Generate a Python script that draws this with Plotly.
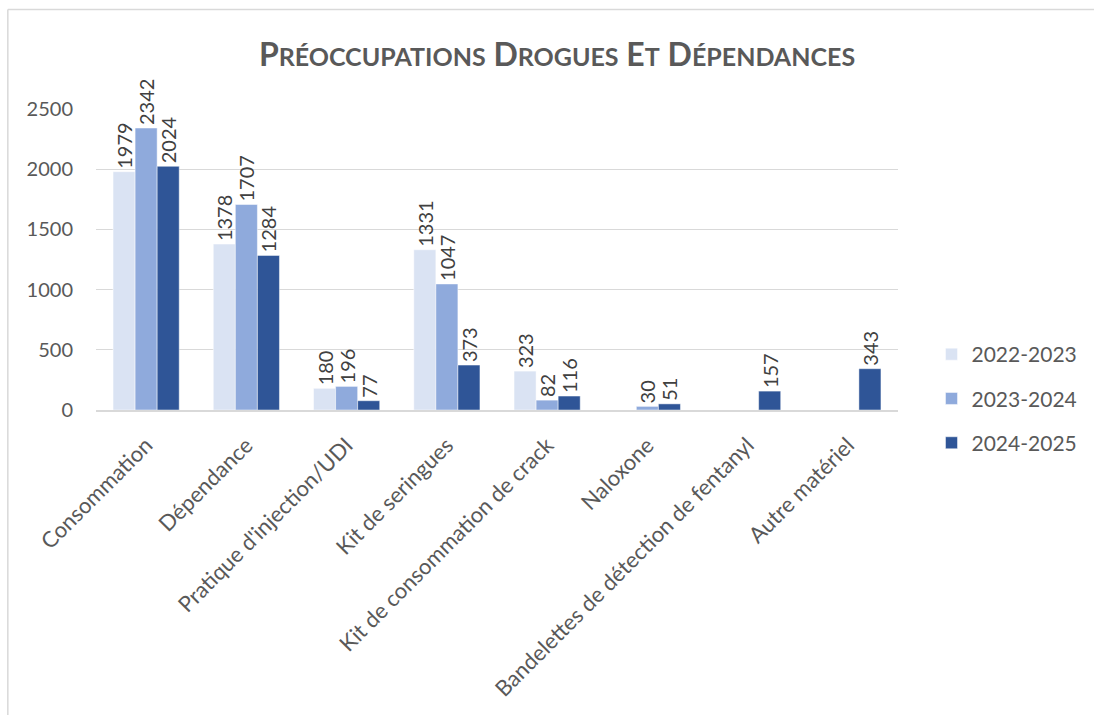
import plotly.graph_objects as go

categories = ["Consommation", "Dépendance", "Pratique d'injection/UDI", "Kit de seringues",
              "Kit de consommation de crack", "Naloxone",
              "Bandelettes de détection de fentanyl", "Autre matériel"]
series_names = ["2022-2023", "2023-2024", "2024-2025"]
v_2022_2023 = [1979, 1378, 180, 1331, 323, None, None, None]
v_2023_2024 = [2342, 1707, 196, 1047, 82, 30, None, None]
v_2024_2025 = [2024, 1284, 77, 373, 116, 51, 157, 343]
y_ticks = [0, 500, 1000, 1500, 2000, 2500]

colors = ["#DAE3F3", "#8FAADC", "#2F5597"]
FONT = "Lato, Carlito, Calibri, sans-serif"

fig = go.Figure()
for name, vals, col in zip(series_names, [v_2022_2023, v_2023_2024, v_2024_2025], colors):
    fig.add_trace(go.Bar(
        x=categories, y=vals, name=name, legendgroup=name,
        marker=dict(color=col, line=dict(color="rgba(255,255,255,0.6)", width=0.8)),
        text=[("" if v is None else str(v)) for v in vals],
        textposition="outside", textangle=-90, cliponaxis=False,
        constraintext="none",
        textfont=dict(family=FONT, size=20, color="#404040"),
    ))

small = "<span style='font-size:25px'>"
title = (f"P{small}RÉOCCUPATIONS</span> D{small}ROGUES</span> "
         f"E{small}T</span> D{small}ÉPENDANCES</span>")

L, R, T, B = 96, 184, 109, 305
W, H = 1094, 715
pw, ph = W - L - R, H - T - B

fig.update_layout(
    width=W, height=H,
    margin=dict(l=L, r=R, t=T, b=B),
    paper_bgcolor="white", plot_bgcolor="white",
    font=dict(family=FONT, color="#595959"),
    title=dict(text=title, x=557 / W, xanchor="center", y=1 - 55 / H, yanchor="middle",
               font=dict(family=FONT, size=32, color="#595959", weight="bold")),
    barmode="group", bargap=0.34, bargroupgap=0,
    showlegend=True,
    legend=dict(x=(944 - L) / pw, xanchor="left", y=(410 - 334) / ph, yanchor="top",
                traceorder="grouped", tracegroupgap=14,
                font=dict(family=FONT, size=21, color="#595959"),
                itemwidth=30, bgcolor="rgba(0,0,0,0)"),
    xaxis=dict(tickangle=-45, tickfont=dict(family=FONT, size=22, color="#595959"),
               showline=True, linecolor="#D9D9D9", linewidth=1.5, ticks="",
               showgrid=False, ticklabelstandoff=12),
    yaxis=dict(range=[0, 2500], tickvals=y_ticks, showgrid=True, gridcolor="#D9D9D9",
               gridwidth=1, zeroline=False, showline=False, ticks="",
               tickfont=dict(family=FONT, size=20, color="#595959"), ticklabelstandoff=22),
)

# chart frame (top and left edges visible)
x0 = (6.5 - L) / pw
y1 = 1 + (T - 9.5) / ph
y0 = -(H - T - ph + 10) / ph
fig.add_shape(type="line", xref="paper", yref="paper", x0=x0, x1=(W + 20 - L) / pw, y0=y1, y1=y1,
              line=dict(color="#D9D9D9", width=1.5))
fig.add_shape(type="line", xref="paper", yref="paper", x0=x0, x1=x0, y0=y0 - 0.2, y1=y1,
              line=dict(color="#D9D9D9", width=1.5))

fig.write_html("out.html", config={"displayModeBar": False},
               post_script="document.body.style.margin='0';")
